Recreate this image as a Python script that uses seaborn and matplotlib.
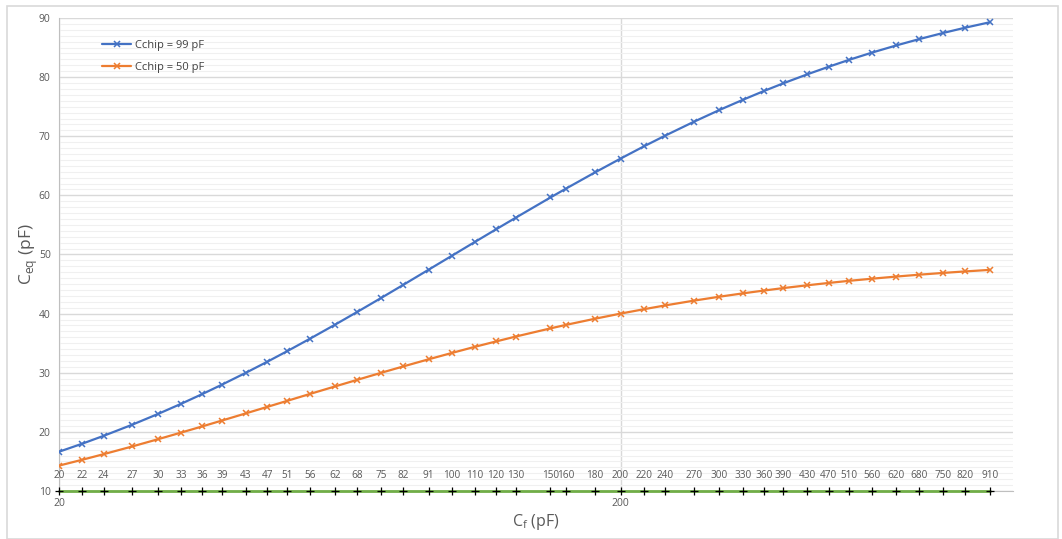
import matplotlib
matplotlib.use("Agg")
import matplotlib.pyplot as plt
import seaborn as sns
import pandas as pd
from matplotlib.ticker import FixedLocator, MultipleLocator, NullLocator

# Valeurs
cf = [20, 22, 24, 27, 30, 33, 36, 39, 43, 47, 51, 56, 62, 68, 75, 82, 91, 100, 110, 120,
      130, 150, 160, 180, 200, 220, 240, 270, 300, 330, 360, 390, 430, 470, 510, 560,
      620, 680, 750, 820, 910]
ceq_99 = [16.64, 18.00, 19.32, 21.21, 23.02, 24.75, 26.40, 27.98, 29.98, 31.87, 33.66,
          35.77, 38.12, 40.31, 42.67, 44.85, 47.42, 49.75, 52.11, 54.25, 56.20, 59.64,
          61.16, 63.87, 66.22, 68.28, 70.09, 72.44, 74.44, 76.15, 77.65, 78.96, 80.47,
          81.77, 82.91, 84.13, 85.37, 86.42, 87.46, 88.34, 89.29]
ceq_50 = [14.29, 15.28, 16.22, 17.53, 18.75, 19.88, 20.93, 21.91, 23.12, 24.23, 25.25,
          26.42, 27.68, 28.81, 30.00, 31.06, 32.27, 33.33, 34.38, 35.29, 36.11, 37.50,
          38.10, 39.13, 40.00, 40.74, 41.38, 42.19, 42.86, 43.42, 43.90, 44.32, 44.79,
          45.19, 45.54, 45.90, 46.27, 46.58, 46.88, 47.13, 47.40]
base = [10] * len(cf)
series_names = ["Cchip = 99 pF", "Cchip = 50 pF"]
x_ticks = [20, 200]

df = pd.DataFrame({
    "Cf": cf * 2,
    "Ceq": ceq_99 + ceq_50,
    "serie": [series_names[0]] * len(cf) + [series_names[1]] * len(cf),
})

sns.set_style("white")
plt.rcParams['font.family'] = ['Open Sans', 'DejaVu Sans']

fig = plt.figure(figsize=(10.62, 5.39), dpi=100)
ax = fig.add_axes([0.0556, 0.0891, 0.8983, 0.8775])

# bordure du graphique
fig.patches.append(plt.Rectangle((0.0066, 0.0), 0.99, 0.989, transform=fig.transFigure,
                                 fill=False, edgecolor="#D9D9D9", linewidth=1.2))

ax.set_xscale("log")
ax.set_xlim(20, 1000)
ax.set_ylim(10, 90)

ax.yaxis.set_major_locator(MultipleLocator(10))
ax.yaxis.set_minor_locator(MultipleLocator(1))
ax.grid(which="major", axis="y", color="#D9D9D9", linewidth=1.0, zorder=0)
ax.grid(which="minor", axis="y", color="#F0F0F0", linewidth=0.8, zorder=0)
ax.xaxis.set_major_locator(FixedLocator(x_ticks))
ax.xaxis.set_minor_locator(NullLocator())
ax.set_xticklabels([str(t) for t in x_ticks])
ax.grid(which="major", axis="x", color="#D9D9D9", linewidth=1.0, zorder=0)

sns.lineplot(data=df, x="Cf", y="Ceq", hue="serie", palette=["#4472C4", "#ED7D31"],
             marker="x", markersize=5, markeredgewidth=1.1, linewidth=1.6,
             markeredgecolor=None, ax=ax, zorder=3)

# série de base à y = 10 avec étiquettes
sns.lineplot(x=cf, y=base, color="#70AD47", linewidth=2.0, ax=ax, zorder=4,
             marker="+", markersize=5.5, markeredgewidth=0.9, markeredgecolor="black",
             label="_nolegend_", clip_on=False)
for v in cf:
    ax.annotate(str(v), (v, 10), xytext=(0, 7), textcoords="offset points",
                ha="center", va="bottom", fontsize=7.2, color="#595959", zorder=5)

for s in ["top", "right"]:
    ax.spines[s].set_visible(False)
ax.spines["left"].set_color("#BFBFBF")
ax.spines["bottom"].set_color("#BFBFBF")
ax.spines["bottom"].set_zorder(1)

ax.tick_params(axis="y", which="major", length=4, color="#BFBFBF", labelsize=7.5,
               labelcolor="#595959", pad=2)
ax.tick_params(axis="y", which="minor", length=0)
ax.tick_params(axis="x", which="major", length=0, labelsize=7.5, labelcolor="#595959", pad=5)

ax.set_xlabel(r"C$_\mathregular{f}$ (pF)", fontsize=11.5, color="#595959", labelpad=2)
ax.set_ylabel(r"C$_\mathregular{eq}$ (pF)", fontsize=12.5, color="#595959", labelpad=-1)

leg = ax.legend(loc="upper left", bbox_to_anchor=(0.035, 0.975), frameon=False,
                fontsize=8, handlelength=2.6, handletextpad=0.3, labelspacing=1.0)
for t in leg.get_texts():
    t.set_color("#404040")

fig.savefig("out.png", dpi=100)
